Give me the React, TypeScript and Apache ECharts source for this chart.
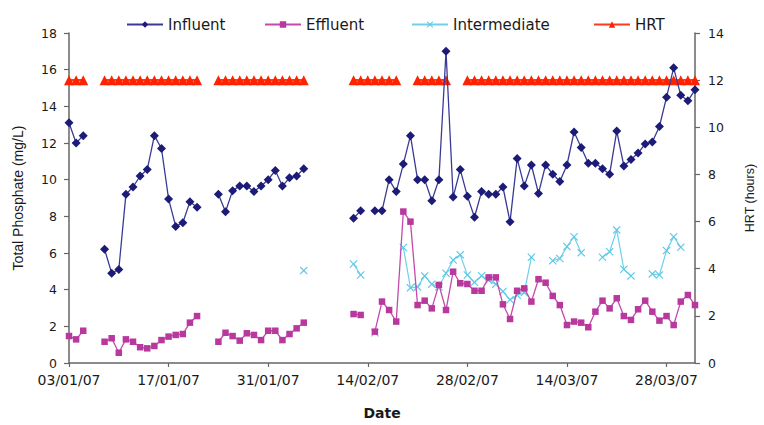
import React, { useEffect, useRef } from "react";
import * as echarts from "echarts";

const _ = null;

// Days counted from 03/01/07 (index 0) to 01/04/07 (index 88)
const START_DATE = Date.UTC(2007, 0, 3);
const X_MAX_DAY = 88;
const X_TICK_DAYS = 14;

const seriesNames = ["Influent", "Effluent", "Intermediate", "HRT"];

const influent = [
  13.1, 12.0, 12.4, _, _,
  6.2, 4.9, 5.1, 9.2, 9.6, 10.2, 10.55, 12.4, 11.7, 8.95, 7.45, 7.65, 8.8, 8.5, _, _,
  9.2, 8.25, 9.4, 9.65, 9.65, 9.35, 9.65, 10.0, 10.5, 9.65, 10.1, 10.2, 10.6,
  _, _, _, _, _, _,
  7.9, 8.3, _, 8.3, 8.3, 10.0, 9.35, 10.85, 12.4, 10.0, 10.0, 8.85, 10.0, 17.0, 9.05,
  10.55, 9.1, 7.95, 9.35, 9.2, 9.2, 9.6, 7.7, 11.15, 9.65, 10.8, 9.25, 10.8, 10.3, 9.9,
  10.8, 12.6, 11.75, 10.9, 10.9, 10.6, 10.3, 12.65, 10.75, 11.1, 11.45, 11.95, 12.05,
  12.9, 14.5, 16.1, 14.6, 14.3, 14.9,
];

const effluent = [
  1.47, 1.29, 1.76, _, _,
  1.16, 1.35, 0.56, 1.29, 1.16, 0.86, 0.8, 0.93, 1.25, 1.44, 1.53, 1.58, 2.2, 2.56, _, _,
  1.16, 1.65, 1.47, 1.22, 1.62, 1.53, 1.25, 1.76, 1.76, 1.25, 1.58, 1.89, 2.2,
  _, _, _, _, _, _,
  2.67, 2.62, _, 1.71, 3.35, 2.89, 2.26, 8.26, 7.71, 3.16, 3.4, 2.98, 4.26, 2.89, 4.98,
  4.35, 4.31, 3.94, 3.94, 4.67, 4.67, 3.2, 2.4, 3.94, 4.07, 3.35, 4.57, 4.38, 3.66, 3.16,
  2.07, 2.26, 2.2, 1.95, 2.8, 3.4, 2.98, 3.53, 2.56, 2.35, 2.93, 3.4, 2.8, 2.31, 2.56,
  2.07, 3.35, 3.71, 3.16,
];

const intermediate = [
  _, _, _, _, _, _, _, _, _, _, _, _, _, _, _, _, _, _, _, _,
  _, _, _, _, _, _, _, _, _, _, _, _, _, 5.04,
  _, _, _, _, _, _,
  5.4, 4.8, _, 1.65, _, _, _, 6.3, 4.1, 4.15, 4.75, 4.3, 4.15, 4.9, 5.62,
  5.9, 4.8, 4.4, 4.76, 4.5, 4.3, 3.9, 3.45, 3.7, 3.84, 5.77, _, _, 5.58, 5.7,
  6.35, 6.89, 6.02, _, _, 5.77, 6.07, 7.26, 5.11, 4.75, _, _, 4.86, 4.8, 6.13,
  6.89, 6.31, _, _,
];

const hrt = [
  12, 12, 12, _, _,
  12, 12, 12, 12, 12, 12, 12, 12, 12, 12, 12, 12, 12, 12, _, _,
  12, 12, 12, 12, 12, 12, 12, 12, 12, 12, 12, 12, 12,
  _, _, _, _, _, _,
  12, 12, 12, 12, 12, 12, 12, _, _, 12, 12, 12, 12, 12, _, _,
  12, 12, 12, 12, 12, 12, 12, 12, 12, 12, 12, 12, 12, 12, 12, 12, 12,
  12, 12, 12, 12, 12, 12, 12, 12, 12, 12, 12, 12, 12, 12, 12, 12,
];

const leftTicks = { min: 0, max: 18, interval: 2 };
const rightTicks = { min: 0, max: 14, interval: 2 };

const toPairs = (arr: (number | null)[]) =>
  arr.map((v, i) => [i, v == null ? "-" : v]);

const fmtDay = (d: number) => {
  const dt = new Date(START_DATE + d * 86400000);
  const dd = String(dt.getUTCDate()).padStart(2, "0");
  const mm = String(dt.getUTCMonth() + 1).padStart(2, "0");
  const yy = String(dt.getUTCFullYear()).slice(2);
  return `${dd}/${mm}/${yy}`;
};

const X_SHAPE =
  "path://M0,1 L1,0 L5,4 L9,0 L10,1 L6,5 L10,9 L9,10 L5,6 L1,10 L0,9 L4,5 Z";

const AXIS_COLOR = "#666";
const TEXT_COLOR = "#1a1a1a";

export default function App() {
  const ref = useRef<HTMLDivElement>(null);
  useEffect(() => {
    if (!ref.current) return;
    const chart = echarts.init(ref.current, undefined, { renderer: "svg" });
    const legendText = {
      fontFamily: "DejaVu Sans",
      fontSize: 15,
      color: TEXT_COLOR,
    };
    const legendBase = {
      top: 12,
      itemWidth: 36,
      itemHeight: 8,
      itemGap: 4,
      textStyle: legendText,
    };
    const option: any = {
      animation: false,
      backgroundColor: "#fff",
      legend: [
        { ...legendBase, left: 121, data: [seriesNames[0]] },
        { ...legendBase, left: 259, data: [seriesNames[1]] },
        { ...legendBase, left: 406, data: [seriesNames[2]] },
        { ...legendBase, left: 588, data: [seriesNames[3]] },
      ],
      grid: { left: 69, right: 62, top: 33, bottom: 62 },
      xAxis: {
        type: "value",
        min: 0,
        max: X_MAX_DAY,
        interval: X_TICK_DAYS,
        name: "Date",
        nameLocation: "middle",
        nameGap: 43,
        nameTextStyle: {
          fontFamily: "DejaVu Sans",
          fontWeight: "bold",
          fontSize: 14,
          color: TEXT_COLOR,
        },
        axisLine: { lineStyle: { color: AXIS_COLOR, width: 1.5 } },
        axisTick: { length: 4, lineStyle: { color: AXIS_COLOR, width: 1.2 } },
        axisLabel: {
          margin: 10,
          fontFamily: "DejaVu Sans",
          fontSize: 14,
          color: TEXT_COLOR,
          showMaxLabel: false,
          formatter: (v: number) => (v % X_TICK_DAYS === 0 ? fmtDay(v) : ""),
        },
        splitLine: { show: false },
      },
      yAxis: [
        {
          type: "value",
          ...leftTicks,
          name: "Total Phosphate (mg/L)",
          nameLocation: "middle",
          nameRotate: 90,
          nameGap: 44,
          nameTextStyle: {
            fontFamily: "Liberation Sans",
            fontSize: 14,
            color: TEXT_COLOR,
          },
          axisLine: { show: true, lineStyle: { color: AXIS_COLOR, width: 1.5 } },
          axisTick: { show: true, length: 5, lineStyle: { color: AXIS_COLOR, width: 1.2 } },
          axisLabel: {
            margin: 12,
            fontFamily: "DejaVu Sans",
            fontSize: 12.5,
            color: TEXT_COLOR,
          },
          splitLine: { show: false },
        },
        {
          type: "value",
          ...rightTicks,
          position: "right",
          name: "HRT (hours)",
          nameLocation: "middle",
          nameRotate: 90,
          nameGap: 48,
          nameTextStyle: {
            fontFamily: "Liberation Sans",
            fontSize: 12.5,
            color: TEXT_COLOR,
          },
          axisLine: { show: true, lineStyle: { color: AXIS_COLOR, width: 1.5 } },
          axisTick: { show: true, length: 5, lineStyle: { color: AXIS_COLOR, width: 1.2 } },
          axisLabel: {
            margin: 13,
            fontFamily: "DejaVu Sans",
            fontSize: 12.5,
            color: TEXT_COLOR,
          },
          splitLine: { show: false },
        },
      ],
      series: [
        {
          name: seriesNames[3],
          type: "line",
          yAxisIndex: 1,
          data: toPairs(hrt),
          symbol: "triangle",
          symbolSize: 10,
          itemStyle: { color: "#ff2200" },
          lineStyle: { color: "#ff3a1a", width: 2.5 },
          z: 2,
        },
        {
          name: seriesNames[2],
          type: "line",
          yAxisIndex: 0,
          data: toPairs(intermediate),
          symbol: X_SHAPE,
          symbolSize: 8,
          itemStyle: { color: "#5cc8e6" },
          lineStyle: { color: "#6fd0ea", width: 1.2 },
          z: 3,
        },
        {
          name: seriesNames[1],
          type: "line",
          yAxisIndex: 0,
          data: toPairs(effluent),
          symbol: "rect",
          symbolSize: 6.5,
          itemStyle: { color: "#b8389e" },
          lineStyle: { color: "#c24aac", width: 1.3 },
          z: 4,
        },
        {
          name: seriesNames[0],
          type: "line",
          yAxisIndex: 0,
          data: toPairs(influent),
          symbol: "diamond",
          symbolSize: 9,
          itemStyle: { color: "#1c1c78" },
          lineStyle: { color: "#3a3a96", width: 1.3 },
          z: 5,
        },
      ],
    };
    chart.setOption(option);
    return () => chart.dispose();
  }, []);
  return <div ref={ref} style={{ width: 764, height: 425, position: "absolute", left: 0, top: 0 }} />;
}
